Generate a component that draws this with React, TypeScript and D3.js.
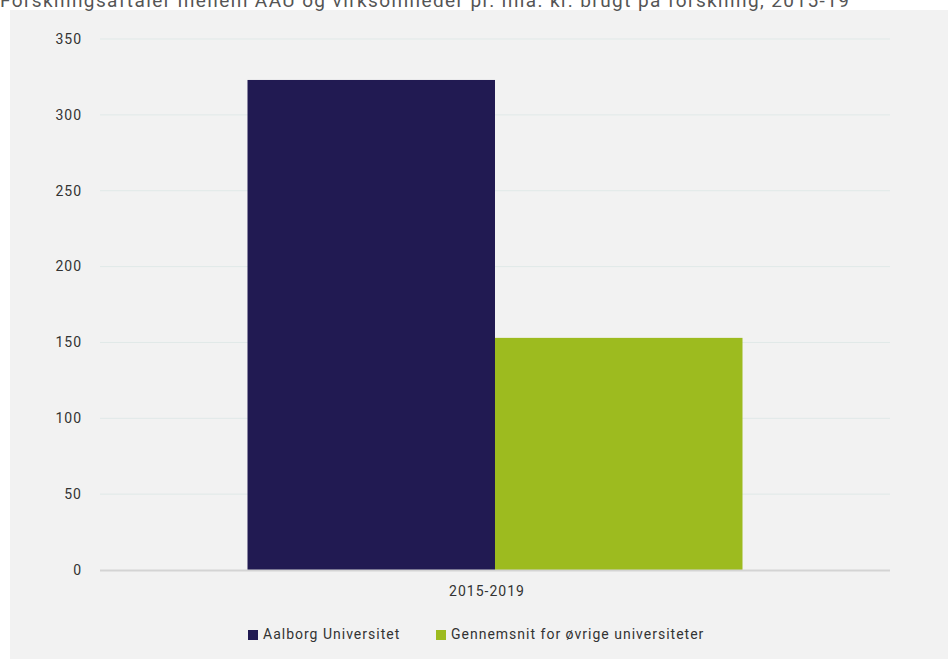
import React from "react";
import * as d3 from "d3";

const title = "Forskningsaftaler mellem AAU og virksomheder pr. mia. kr. brugt på forskning, 2015-19";
const categories = ["2015-2019"];
const seriesNames = ["Aalborg Universitet", "Gennemsnit for øvrige universiteter"];
const seriesValues = [[323], [153]];
const seriesColors = ["#211a52", "#9dbb1f"];
const yTicks = [0, 50, 100, 150, 200, 250, 300, 350];

const W = 948;
const H = 659;
const FONT = "Roboto, 'DejaVu Sans', sans-serif";

export default function App() {
  const x0 = d3.scaleBand<string>().domain(categories).range([100, 890]).paddingInner(0).paddingOuter(0.298);
  const x1 = d3.scaleBand<string>().domain(seriesNames).range([0, x0.bandwidth()]).padding(0);
  const y = d3.scaleLinear().domain([0, 350]).range([570, 39]);

  const legendItems = [
    { name: seriesNames[0], x: 248 },
    { name: seriesNames[1], x: 436 },
  ];

  return (
    <svg width={W} height={H} style={{ position: "absolute", left: 0, top: 0, display: "block" }} fontFamily={FONT}>
      <rect x={10} y={10} width={W - 10} height={H - 10} fill="#f2f2f2" />
      <text x={0} y={7} fontSize={19} fill="#555" letterSpacing={1.4} fontFamily={FONT}>{title}</text>
      {yTicks.map((t) => (
        <g key={t}>
          {t !== 0 && (
            <line x1={100} x2={890} y1={y(t)} y2={y(t)} stroke="#e0e9e8" strokeWidth={1} />
          )}
          <text x={82} y={y(t)} dy="0.35em" textAnchor="end" fontSize={14} fill="#333" letterSpacing={1}>
            {t}
          </text>
        </g>
      ))}
      {categories.map((c, ci) => (
        <g key={c} transform={`translate(${x0(c)},0)`}>
          {seriesNames.map((s, si) => (
            <rect
              key={s}
              x={x1(s)}
              y={y(seriesValues[si][ci])}
              width={x1.bandwidth()}
              height={y(0) - y(seriesValues[si][ci])}
              fill={seriesColors[si]}
            />
          ))}
        </g>
      ))}
      <line x1={100} x2={890} y1={y(0) + 0.5} y2={y(0) + 0.5} stroke="#d4d4d4" strokeWidth={2} />
      {categories.map((c) => (
        <text key={c} x={(x0(c) as number) + x0.bandwidth() / 2 - 8} y={596} textAnchor="middle" fontSize={14} fill="#333" letterSpacing={1}>
          {c}
        </text>
      ))}
      {legendItems.map((l, i) => (
        <g key={l.name}>
          <rect x={l.x} y={630} width={10} height={10} fill={seriesColors[i]} />
          <text x={l.x + 15} y={639} fontSize={14} fill="#333" letterSpacing={1}>
            {l.name}
          </text>
        </g>
      ))}
    </svg>
  );
}
